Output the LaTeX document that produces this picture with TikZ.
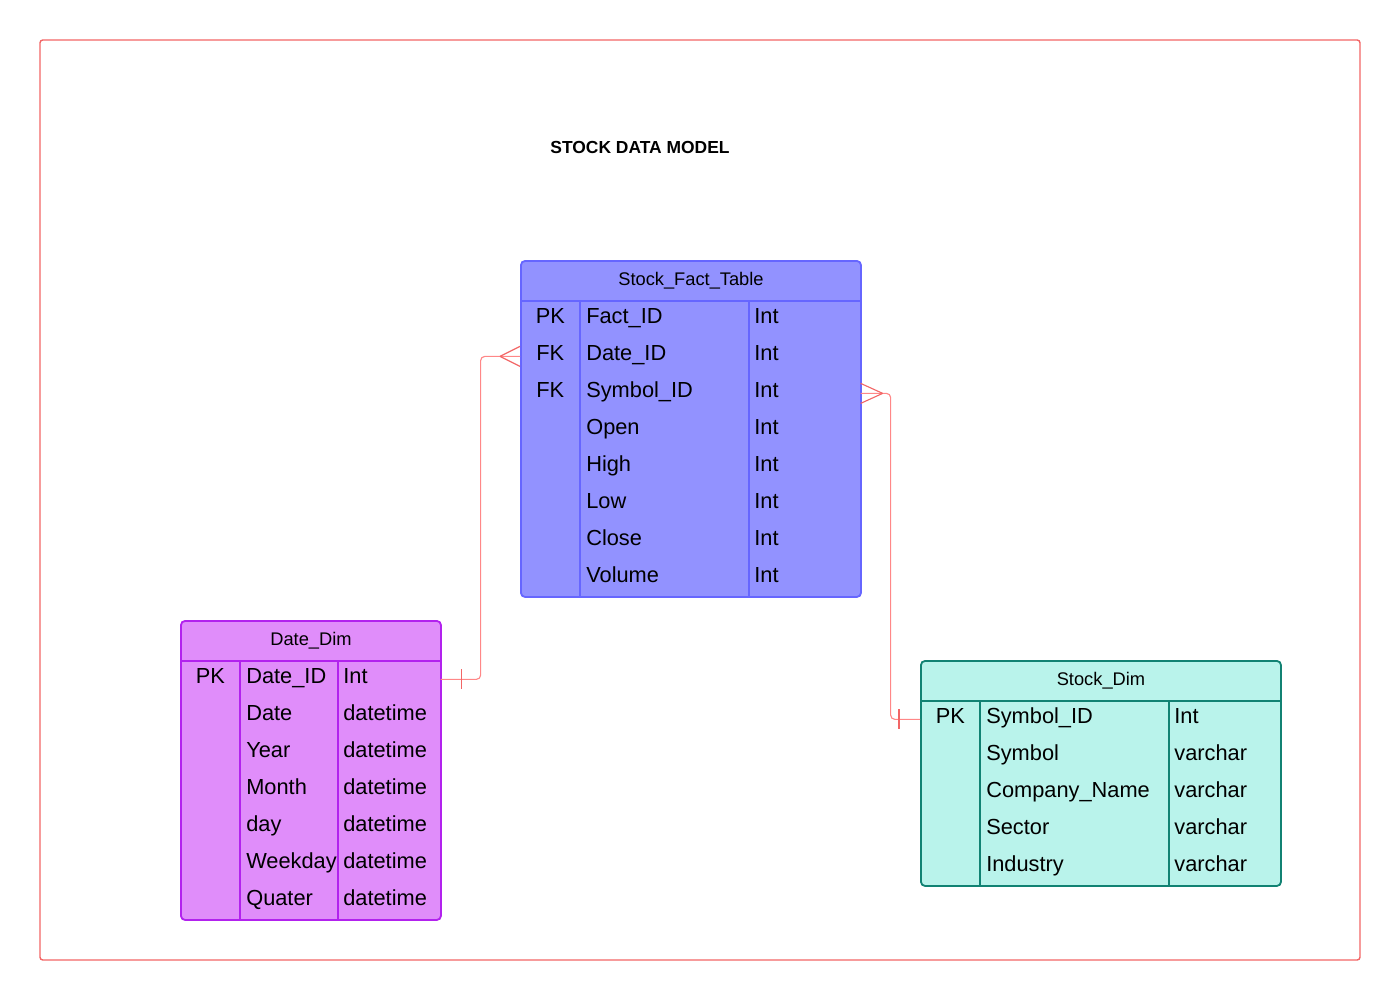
\documentclass[tikz,border=0pt]{standalone}
\usepackage{fontspec}
\setmainfont{Liberation Sans}
\usepackage{xcolor}
\usetikzlibrary{positioning}

\definecolor{factFill}{RGB}{146,146,255}
\definecolor{factEdge}{RGB}{102,102,255}
\definecolor{dateFill}{RGB}{224,141,250}
\definecolor{dateEdge}{RGB}{178,34,238}
\definecolor{stockFill}{RGB}{185,243,235}
\definecolor{stockEdge}{RGB}{17,130,115}
\definecolor{frameRed}{RGB}{242,102,102}
\definecolor{linkRed}{RGB}{255,135,135}

\begin{document}
\begin{tikzpicture}[
  x=0.025cm, y=-0.025cm,
  every matrix/.style={ampersand replacement=\&,column sep=0pt,row sep=0pt,inner sep=0pt,matrix anchor=north west},
  frame/.style={draw=frameRed,line width=1pt,rounded corners=2pt},
  title/.style={font=\fontsize{12.4}{14}\selectfont\bfseries},
  tableBox/.style={draw=#1Edge,fill=#1Fill,line width=1.3pt,rounded corners=3pt,anchor=north west,inner sep=0pt},
  tableHead/.style={minimum height=1cm,inner sep=0pt,anchor=north,font=\fontsize{13}{15}\selectfont},
  tableLine/.style={draw=#1Edge,line width=1.5pt},
  cell/.style={anchor=center,inner ysep=0pt,minimum height=0.925cm,text height=11.6pt,text depth=5.2pt,font=\fontsize{15.5}{18}\selectfont},
  keyCell/.style={cell,inner xsep=0pt,minimum width=1.5cm},
  nameCell/.style={cell,inner xsep=0.15cm,text width=#1,align=left},
  typeCell/.style={cell,inner xsep=0.125cm,text width=#1,align=left},
  link/.style={draw=linkRed,line width=0.8pt,rounded corners=3pt},
  crowFoot/.style={draw=frameRed,line width=0.8pt},
  oneMark/.style={draw=frameRed,line width=0.8pt}]

  \useasboundingbox (0,0) rectangle (1400,1000);
  \draw[frame] (40,40) rectangle (1360,960);
  \node[title] (modelTitle) at (640,147) {STOCK DATA MODEL};

  % fact table
  \node[tableBox=fact,minimum width=8.5cm,minimum height=8.4cm] (factBox) at (520,260) {};
  \node[tableHead] (factHead) at (factBox.north) {Stock\_Fact\_Table};
  \matrix (factRows) [column 1/.style={nodes=keyCell},column 2/.style={nodes={nameCell=3.925cm}},
    column 3/.style={nodes={typeCell=2.525cm}}] at (factBox.west |- factHead.south) {
    \node (fKey1) {PK}; \& \node (fName1) {Fact\_ID}; \& \node (fType1) {Int}; \\
    \node (fKey2) {FK}; \& \node (fName2) {Date\_ID}; \& \node (fType2) {Int}; \\
    \node (fKey3) {FK}; \& \node (fName3) {Symbol\_ID}; \& \node (fType3) {Int}; \\
    \node (fKey4) {}; \& \node (fName4) {Open}; \& \node (fType4) {Int}; \\
    \node (fKey5) {}; \& \node (fName5) {High}; \& \node (fType5) {Int}; \\
    \node (fKey6) {}; \& \node (fName6) {Low}; \& \node (fType6) {Int}; \\
    \node (fKey7) {}; \& \node (fName7) {Close}; \& \node (fType7) {Int}; \\
    \node (fKey8) {}; \& \node (fName8) {Volume}; \& \node (fType8) {Int}; \\
  };
  \draw[tableLine=fact] (factBox.west |- factHead.south) -- (factBox.east |- factHead.south);
  \draw[tableLine=fact] (fName1.north west) -- (fName8.south west);
  \draw[tableLine=fact] (fType1.north west) -- (fType8.south west);

  % date dimension
  \node[tableBox=date,minimum width=6.5cm,minimum height=7.475cm] (dateBox) at (180,620) {};
  \node[tableHead] (dateHead) at (dateBox.north) {Date\_Dim};
  \matrix (dateRows) [column 1/.style={nodes=keyCell},column 2/.style={nodes={nameCell=2.15cm}},
    column 3/.style={nodes={typeCell=2.3cm}}] at (dateBox.west |- dateHead.south) {
    \node (dKey1) {PK}; \& \node (dName1) {Date\_ID}; \& \node (dType1) {Int}; \\
    \node (dKey2) {}; \& \node (dName2) {Date}; \& \node (dType2) {datetime}; \\
    \node (dKey3) {}; \& \node (dName3) {Year}; \& \node (dType3) {datetime}; \\
    \node (dKey4) {}; \& \node (dName4) {Month}; \& \node (dType4) {datetime}; \\
    \node (dKey5) {}; \& \node (dName5) {day}; \& \node (dType5) {datetime}; \\
    \node (dKey6) {}; \& \node (dName6) {Weekday}; \& \node (dType6) {datetime}; \\
    \node (dKey7) {}; \& \node (dName7) {Quater}; \& \node (dType7) {datetime}; \\
  };
  \draw[tableLine=date] (dateBox.west |- dateHead.south) -- (dateBox.east |- dateHead.south);
  \draw[tableLine=date] (dName1.north west) -- (dName7.south west);
  \draw[tableLine=date] (dType1.north west) -- (dType7.south west);

  % stock dimension
  \node[tableBox=stock,minimum width=9cm,minimum height=5.625cm] (stockBox) at (920,660) {};
  \node[tableHead] (stockHead) at (stockBox.north) {Stock\_Dim};
  \matrix (stockRows) [column 1/.style={nodes=keyCell},column 2/.style={nodes={nameCell=4.425cm}},
    column 3/.style={nodes={typeCell=2.525cm}}] at (stockBox.west |- stockHead.south) {
    \node (sKey1) {PK}; \& \node (sName1) {Symbol\_ID}; \& \node (sType1) {Int}; \\
    \node (sKey2) {}; \& \node (sName2) {Symbol}; \& \node (sType2) {varchar}; \\
    \node (sKey3) {}; \& \node (sName3) {Company\_Name}; \& \node (sType3) {varchar}; \\
    \node (sKey4) {}; \& \node (sName4) {Sector}; \& \node (sType4) {varchar}; \\
    \node (sKey5) {}; \& \node (sName5) {Industry}; \& \node (sType5) {varchar}; \\
  };
  \draw[tableLine=stock] (stockBox.west |- stockHead.south) -- (stockBox.east |- stockHead.south);
  \draw[tableLine=stock] (sName1.north west) -- (sName5.south west);
  \draw[tableLine=stock] (sType1.north west) -- (sType5.south west);

  % relations
  \draw[link] (dType1.east) -- ++(40,0) |- (fKey2.west);
  \draw[crowFoot] ([xshift=-0.5cm]fKey2.west) -- ([yshift=0.25cm]fKey2.west)
    ([xshift=-0.5cm]fKey2.west) -- ([yshift=-0.25cm]fKey2.west);
  \draw[oneMark] ([xshift=0.525cm,yshift=0.25cm]dType1.east) -- ([xshift=0.525cm,yshift=-0.25cm]dType1.east);

  \draw[link] (fType3.east) -- ++(30,0) |- (sKey1.west);
  \draw[crowFoot] ([xshift=0.55cm]fType3.east) -- ([yshift=0.25cm]fType3.east)
    ([xshift=0.55cm]fType3.east) -- ([yshift=-0.25cm]fType3.east);
  \draw[oneMark] ([xshift=-0.525cm,yshift=0.25cm]sKey1.west) -- ([xshift=-0.525cm,yshift=-0.25cm]sKey1.west);
\end{tikzpicture}
\end{document}
